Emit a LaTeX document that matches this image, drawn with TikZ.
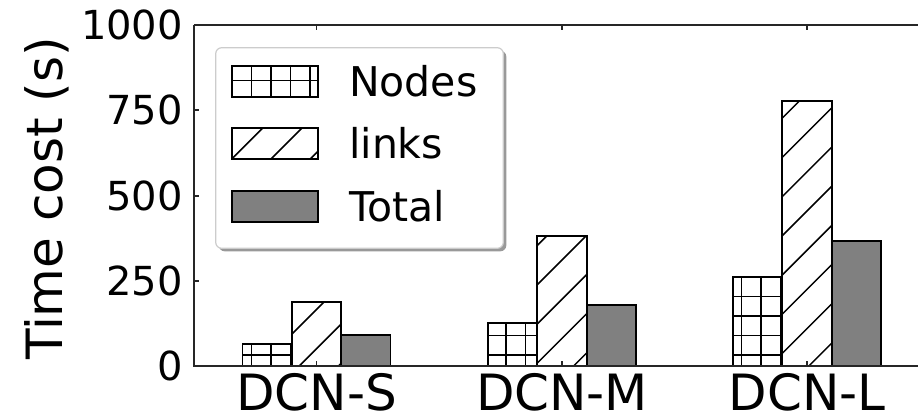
\documentclass[tikz,border=0pt]{standalone}
\usepackage{fontspec}
\setmainfont{DejaVu Sans}
\begin{document}
\begin{tikzpicture}[x=1pt,y=-1pt,
  spine/.style={line width=1.4pt,draw=black!85},
  tickmark/.style={line width=1.2pt,draw=black!85},
  baredge/.style={line width=1.8pt,draw=black},
  hatchline/.style={line width=1.5pt,draw=black},
  ticklabel/.style={font=\fontsize{40}{46}\selectfont,anchor=east,inner sep=0pt},
  catlabel/.style={font=\fontsize{50}{58}\selectfont,anchor=base,inner sep=0pt},
  legtext/.style={font=\fontsize{41}{48}\selectfont,anchor=base west,inner sep=0pt},
  totalfill/.style={fill=black!50}]

\useasboundingbox (0,0) rectangle (918,415);

% --- hatch helpers: clip to a box, draw the global hatch lines, then the edge
\newcommand{\gridbox}[4]{%
  \begin{scope}
    \clip (#1,#2) rectangle (#3,#4);
    \foreach \k in {-30,...,9} {\draw[hatchline] ({741.3+19.6*\k},0) -- ({741.3+19.6*\k},415);}
    \foreach \k in {-15,...,4} {\draw[hatchline] (0,{296.3+19.6*\k}) -- (918,{296.3+19.6*\k});}
  \end{scope}
  \draw[baredge] (#1,#2) rectangle (#3,#4);}
\newcommand{\slashbox}[4]{%
  \begin{scope}
    \clip (#1,#2) rectangle (#3,#4);
    \foreach \k in {-20,...,10} {\draw[hatchline] ({939.6+39.2*\k},0) -- ({939.6+39.2*\k-430},430);}
  \end{scope}
  \draw[baredge] (#1,#2) rectangle (#3,#4);}
\newcommand{\solidbox}[4]{%
  \draw[baredge,totalfill] (#1,#2) rectangle (#3,#4);}

% --- bars: nodes, links, total for each data-centre size
% DCN-S
\gridbox{242.5}{344.3}{291.8}{366}
\slashbox{291.8}{302}{341.2}{366}
\solidbox{341.2}{335.3}{390.5}{366}
% DCN-M
\gridbox{488}{322.7}{537.3}{366}
\slashbox{537.3}{235.7}{586.7}{366}
\solidbox{586.7}{304.7}{636}{366}
% DCN-L
\gridbox{733}{277.3}{782.3}{366}
\slashbox{782.3}{100.7}{831.7}{366}
\solidbox{831.7}{241.3}{881}{366}

% --- axes
\coordinate (o) at (194,366);
\coordinate (tl) at (194,25);
\coordinate (tr) at (918,25);
\coordinate (br) at (918,366);
\draw[spine] (tl) -- (o) -- (br);
\draw[spine] (tl) -- (tr);

% y ticks (inward) and labels
\foreach \yy/\lab in {366/0,281/250,196/500,110/750,25/1000} {
  \draw[tickmark] (194,\yy) -- (199,\yy);
  \node[ticklabel] at (183,\yy) {\lab};
}
% x ticks on bottom and top (inward)
\foreach \xx in {316.5,562,807} {
  \draw[tickmark] (\xx,366) -- (\xx,361);
  \draw[tickmark] (\xx,25) -- (\xx,30);
}
% category labels
\node[catlabel] (cs) at (316.5,410) {DCN-S};
\node[catlabel] (cm) at (562,410) {DCN-M};
\node[catlabel] (cl) at (807,410) {DCN-L};

% y axis title
\node[font=\fontsize{50}{58}\selectfont,rotate=90,anchor=base,inner sep=0pt] (ylab) at (62,198.5) {Time cost (s)};

% --- legend
\fill[black!40,rounded corners=6pt] (218.7,50.7) rectangle (506.3,251.3);
\draw[fill=white,draw=black!20,line width=1.2pt,rounded corners=6pt] (215.7,47.7) rectangle (503.3,248.3);
\gridbox{231.7}{66}{317.7}{96.7}
\slashbox{231.7}{128}{317.7}{159.3}
\solidbox{231.7}{191}{317.7}{221.7}
\node[legtext] (ln) at (349,96.5) {Nodes};
\node[legtext] (ll) at (349,158.5) {links};
\node[legtext] (lt) at (349,221.5) {Total};

\end{tikzpicture}
\end{document}
